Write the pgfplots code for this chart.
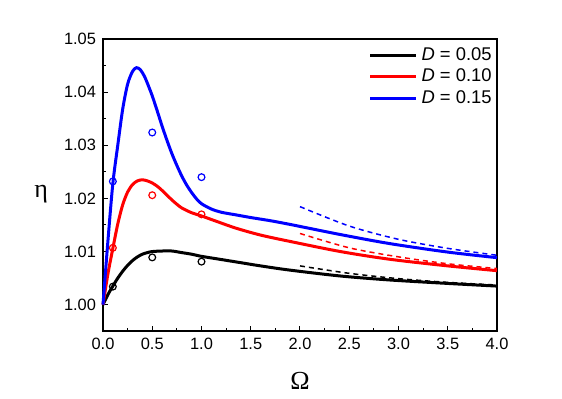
\documentclass[border=0pt]{standalone}
\usepackage{fontspec}
\setmainfont{Liberation Sans}
\newfontfamily\serifgreek{Liberation Serif}
\usepackage{pgfplots}
\pgfplotsset{compat=1.18}

\definecolor{pureblue}{RGB}{0,0,255}
\definecolor{purered}{RGB}{255,0,0}

\begin{document}
\begin{tikzpicture}
    % page frame: 562x399 px at 0.5pt per px, axis box at (103..497, 39..331)
    \path[use as bounding box] (-51.5pt,-34pt) rectangle (229.5pt,165.5pt);
    \begin{axis}[
        scale only axis,
        width=197pt,
        height=146pt,
        xmin=0, xmax=4,
        ymin=0.99505, ymax=1.05,
        xtick={0,0.5,...,4},
        ytick={1.00,1.01,...,1.05},
        minor x tick num=1,
        minor y tick num=1,
        xtick pos=bottom,
        ytick pos=left,
        tick align=inside,
        major tick length=2.4pt,
        minor tick length=1.5pt,
        axis line style={line width=0.6pt},
        every tick/.style={black, line width=0.5pt},
        xticklabel style={/pgf/number format/.cd, fixed, fixed zerofill, precision=1, assume math mode=true},
        yticklabel style={/pgf/number format/.cd, fixed, fixed zerofill, precision=2, assume math mode=true},
        scaled y ticks=false,
        tick label style={font=\fontsize{8.2}{10}\selectfont},
        xlabel={\serifgreek Ω},
        ylabel={\serifgreek η},
        every axis x label/.style={at={(axis description cs:0.5,-0.171)}, anchor=center, font=\fontsize{13}{15}\selectfont},
        every axis y label/.style={at={(axis description cs:-0.157,0.47)}, anchor=center, font=\fontsize{13}{15}\selectfont},
        legend style={draw=none, fill=none, at={(axis description cs:1,1)}, anchor=north east,
            font=\fontsize{9.2}{11}\selectfont, row sep=-1.2pt, inner xsep=0.5pt, inner ysep=2pt},
        legend cell align=left,
        legend image code/.code={\draw[#1] (0pt,0pt) -- (23pt,0pt);},
        clip=false,
    ]
        \addplot[black, line width=1.5pt, smooth] coordinates {
            (0,1.0000) (0.05,1.0019) (0.1,1.0035) (0.15,1.0050) (0.2,1.0063)
            (0.25,1.0074) (0.3,1.0083) (0.35,1.0090) (0.4,1.0095) (0.45,1.0098)
            (0.5,1.0100) (0.6,1.0101) (0.7,1.0101) (0.8,1.0098) (0.9,1.0095)
            (1.0,1.0091) (1.2,1.0085) (1.4,1.0079) (1.6,1.0073) (1.9,1.0065)
            (2.41,1.0054) (2.91,1.00465) (3.5,1.0040) (4.0,1.0035)
        };
        \addlegendentry{\textit{D} = 0.05}
        \addplot[purered, line width=1.5pt, smooth] coordinates {
            (0,1.0000) (0.05,1.0058) (0.1,1.0106) (0.15,1.0152) (0.2,1.0188)
            (0.25,1.0212) (0.3,1.0226) (0.35,1.0233) (0.4,1.0235) (0.45,1.0233)
            (0.5,1.0229) (0.55,1.0223) (0.6,1.0215) (0.65,1.0206) (0.7,1.0197)
            (0.75,1.0189) (0.8,1.0182) (0.9,1.0173) (1.0,1.0167) (1.15,1.0157)
            (1.35,1.0144) (1.6,1.0131) (1.9,1.0119) (2.41,1.0100) (2.91,1.00855)
            (3.5,1.0073) (4.0,1.0064)
        };
        \addlegendentry{\textit{D} = 0.10}
        \addplot[pureblue, line width=1.5pt, smooth] coordinates {
            (0,1.0000) (0.05,1.0120) (0.1,1.0228) (0.15,1.0300) (0.2,1.0368)
            (0.25,1.0415) (0.3,1.0439) (0.34,1.0446) (0.38,1.0442) (0.42,1.0430)
            (0.45,1.0417) (0.5,1.0393) (0.55,1.0365) (0.6,1.0336) (0.65,1.0309)
            (0.7,1.0284) (0.75,1.0262) (0.8,1.0242) (0.85,1.0225) (0.9,1.0211)
            (0.95,1.0199) (1.0,1.0190) (1.1,1.0180) (1.2,1.0174) (1.35,1.0169)
            (1.5,1.0164) (1.7,1.0158) (1.9,1.0151) (2.41,1.0132) (2.91,1.0115)
            (3.5,1.0099) (4.0,1.00885)
        };
        \addlegendentry{\textit{D} = 0.15}

        % asymptotic dashed curves
        \addplot[black, line width=0.75pt, dash pattern=on 2.5pt off 2pt, smooth, forget plot] coordinates {
            (2.0,1.0073) (2.5,1.0059) (3.0,1.0049) (3.5,1.0042) (4.0,1.0037)
        };
        \addplot[purered, line width=0.75pt, dash pattern=on 2.5pt off 2pt, smooth, forget plot] coordinates {
            (2.0,1.0134) (2.5,1.0107) (3.0,1.0090) (3.5,1.0077) (4.0,1.0068)
        };
        \addplot[pureblue, line width=0.75pt, dash pattern=on 2.5pt off 2pt, smooth, forget plot] coordinates {
            (2.0,1.01845) (2.5,1.0148) (3.0,1.0123) (3.5,1.0106) (4.0,1.0093)
        };

        % simulation points
        \addplot[only marks, mark=o, mark size=1.7pt, black, mark options={line width=0.6pt, fill=white}, forget plot] coordinates {
            (0.1,1.0034) (0.5,1.0089) (1.0,1.0081)
        };
        \addplot[only marks, mark=o, mark size=1.7pt, purered, mark options={line width=0.6pt, fill=white}, forget plot] coordinates {
            (0.1,1.0107) (0.5,1.0206) (1.0,1.0170)
        };
        \addplot[only marks, mark=o, mark size=1.7pt, pureblue, mark options={line width=0.6pt, fill=white}, forget plot] coordinates {
            (0.1,1.0232) (0.5,1.0324) (1.0,1.0240)
        };
    \end{axis}
\end{tikzpicture}
\end{document}
